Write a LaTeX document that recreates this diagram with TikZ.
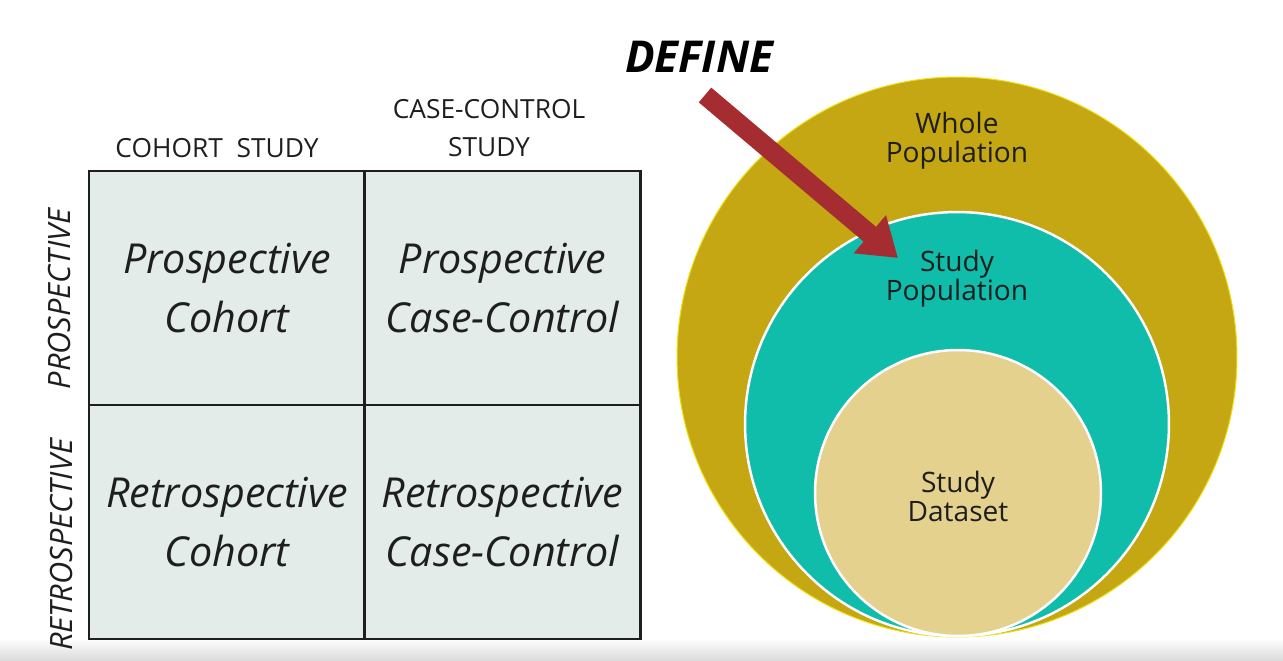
\documentclass[tikz,border=0pt]{standalone}
\usepackage{fontspec}
\setmainfont{Open Sans}
\usetikzlibrary{arrows.meta}
\definecolor{gold}{RGB}{196,167,18}
\definecolor{teal2}{RGB}{16,189,170}
\definecolor{beige}{RGB}{229,209,142}
\definecolor{arrowred}{RGB}{165,45,50}
\definecolor{cellgray}{RGB}{227,236,232}
\definecolor{ink}{RGB}{30,30,30}
\tikzset{
  cellbox/.style={draw=ink, line width=1.6pt, fill=cellgray, minimum width=5.52cm, minimum height=4.68cm,
    inner sep=0pt, outer sep=0pt, align=center, font=\fontsize{23.5}{33.5}\selectfont\itshape, text=ink},
  header/.style={font=\fontsize{15}{22}\selectfont, text=ink, align=center, inner sep=0pt},
  rowlabel/.style={font=\fontsize{17.5}{18}\selectfont\itshape, text=ink, rotate=90, inner sep=0pt},
  disc/.style={circle, inner sep=0pt, outer sep=0pt},
  disclabel/.style={font=\fontsize{16}{16.5}\selectfont, text=ink, align=center, inner sep=0pt}
}
\begin{document}
\begin{tikzpicture}[x=0.02cm,y=-0.02cm]
\useasboundingbox (0,0) rectangle (1283,660);
\shade[top color=white, bottom color=black!14] (0,638) rectangle (1283,660);

% grid
\node[cellbox] (c11) at (227,288) {Prospective\\Cohort};
\node[cellbox] (c12) at (502.5,288) {Prospective\\Case-Control};
\node[cellbox] (c21) at (227,522) {Retrospective\\Cohort};
\node[cellbox] (c22) at (502.5,522) {Retrospective\\Case-Control};

\node[header] (h1) at (217,148) {COHORT\ \ STUDY};
\node[header] (h2) at (489,128) {CASE-CONTROL\\STUDY};
\node[rowlabel] (r1) at (60,299) {PROSPECTIVE};
\node[rowlabel] (r2) at (62,545) {RETROSPECTIVE};

% circles
\node[disc, fill=gold, draw=yellow!70!gold, line width=0.6pt, minimum size=11.2cm] (whole) at (957,357) {};
\node[disc, fill=teal2, draw=white, line width=1.4pt, minimum size=8.48cm] (studypop) at (957,424) {};
\node[disc, fill=beige, draw=white, line width=1.4pt, minimum size=5.72cm] (dataset) at (958,493) {};

\node[disclabel] (lw) at (957,141) {Whole\\Population};
\node[disclabel] (ls) at (957,279) {Study\\Population};
\node[disclabel] (ld) at (958,496) {Study\\Dataset};

% DEFINE arrow
\node[font=\fontsize{25}{28}\selectfont\bfseries\itshape, text=black, inner sep=0pt] (def) at (699,57) {DEFINE};
\coordinate (as) at (705,95);
\coordinate (ae) at (898,258);
\draw[arrowred, line width=11pt, -{Triangle[width=27pt,length=21pt]}] (as) -- (ae);
\end{tikzpicture}
\end{document}
